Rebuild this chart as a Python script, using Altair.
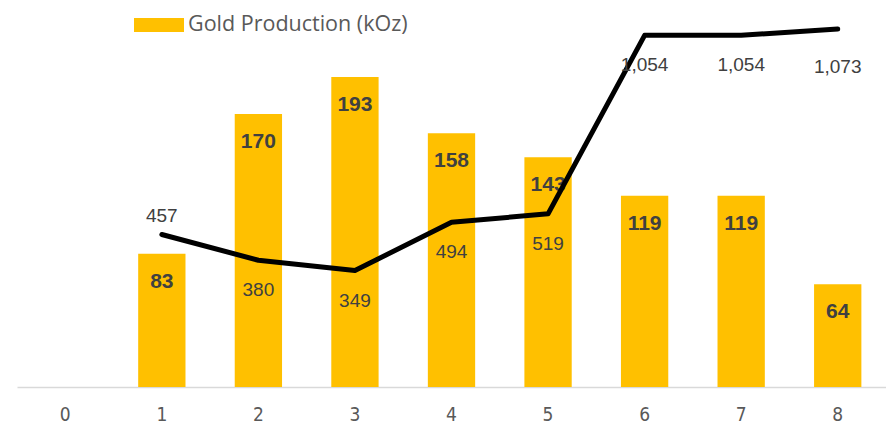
import altair as alt
import pandas as pd

categories = ["0", "1", "2", "3", "4", "5", "6", "7", "8"]
gold_koz = [None, 83, 170, 193, 158, 143, 119, 119, 64]
line_vals = [None, 457, 380, 349, 494, 519, 1054, 1054, 1073]
series_name = "Gold Production (kOz)"

df = pd.DataFrame({"cat": categories, "gold": gold_koz, "line": line_vals})
df["series"] = series_name

GOLD = "#FFC000"
TXT = "#404040"

x = alt.X("cat:N", sort=categories,
          scale=alt.Scale(domain=categories, paddingInner=0, paddingOuter=0),
          axis=alt.Axis(title=None, labelAngle=0, ticks=False, grid=False,
                        domainColor="#d9d9d9", domainWidth=1.5,
                        labelColor="#595959", labelFontSize=19,
                        labelFont="DejaVu Sans Condensed", labelPadding=18))

base = alt.Chart(df)

bars = base.transform_filter("isValid(datum.gold)").mark_bar(
    width=alt.RelativeBandSize(0.49)).encode(
    x=x,
    y=alt.Y("gold:Q", scale=alt.Scale(domain=[0, 234.7], nice=False), axis=None),
    color=alt.Color("series:N", scale=alt.Scale(range=[GOLD]),
                    legend=alt.Legend(title=None, orient="none", legendX=117, legendY=-10,
                                      symbolType="M-1,-0.28H1V0.28H-1Z", symbolSize=2500,
                                      symbolStrokeWidth=0, labelFontSize=21.5,
                                      labelFont="Open Sans", labelColor="#595959",
                                      labelOffset=4, labelLimit=0)),
)

bar_labels = base.transform_filter("isValid(datum.gold)").mark_text(
    font="Liberation Sans", fontSize=21, fontWeight="bold", color=TXT,
    baseline="middle", dy=28).encode(
    x=x,
    y=alt.Y("gold:Q", scale=alt.Scale(domain=[0, 234.7], nice=False), axis=None),
    text=alt.Text("gold:Q", format=",.0f"),
)

ly = alt.Y("line:Q", scale=alt.Scale(domain=[0, 1130], nice=False), axis=None)

line = base.transform_filter("isValid(datum.line)").mark_line(
    color="black", strokeWidth=5, strokeCap="round", strokeJoin="round").encode(
    x=x, y=ly)

lab_style = dict(font="Liberation Sans", fontSize=19, color=TXT, baseline="middle")
line_lab_above = base.transform_filter("datum.cat == '1'").mark_text(dy=-19, **lab_style).encode(
    x=x, y=ly, text=alt.Text("line:Q", format=",.0f"))
line_lab_below = base.transform_filter(
    "isValid(datum.line) && datum.cat != '1' && datum.cat != '8'").mark_text(dy=30, **lab_style).encode(
    x=x, y=ly, text=alt.Text("line:Q", format=",.0f"))
line_lab_last = base.transform_filter("datum.cat == '8'").mark_text(dy=38, **lab_style).encode(
    x=x, y=ly, text=alt.Text("line:Q", format=",.0f"))

left = alt.layer(bars, bar_labels)
right = alt.layer(line, line_lab_above, line_lab_below, line_lab_last)

chart = alt.layer(left, right).resolve_scale(y="independent").properties(
    width=869, height=377,
    autosize=alt.AutoSizeParams(type="none"),
    padding={"left": 17, "top": 10, "right": 0, "bottom": 53},
).configure(background="white").configure_view(stroke=None, strokeWidth=0)

chart.save("out.html", embed_options={"renderer": "svg", "actions": False})
